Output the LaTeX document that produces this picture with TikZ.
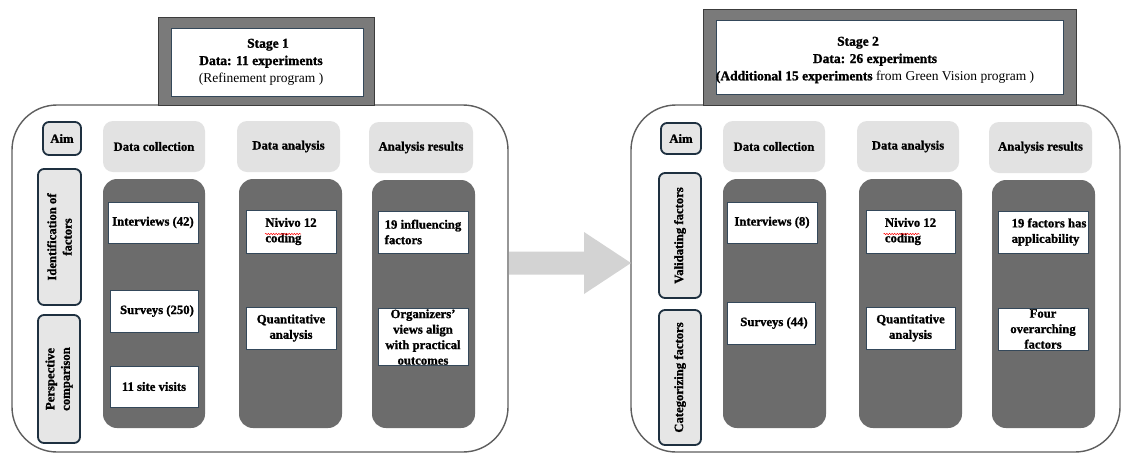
\documentclass[tikz,border=0pt]{standalone}
\usepackage{fontspec}
\setmainfont{Liberation Serif}[BoldFeatures={FakeBold=1.2}]
\usetikzlibrary{calc,decorations.pathmorphing}
\definecolor{frameline}{HTML}{5E5E5E}
\definecolor{hdrgray}{HTML}{7A7A7A}
\definecolor{hdrline}{HTML}{3C3C3C}
\definecolor{navy}{HTML}{1E3040}
\definecolor{itemline}{HTML}{34485A}
\definecolor{aimfill}{HTML}{E6E6E6}
\definecolor{headfill}{HTML}{E2E2E2}
\definecolor{bodyfill}{HTML}{6C6C6C}
\definecolor{arrowgray}{HTML}{D3D3D3}
\begin{document}
\begin{tikzpicture}[x=1pt,y=-1pt,
  every node/.style={font=\fontsize{12.7}{15.5}\selectfont\bfseries, inner sep=0pt, outer sep=0pt},
  container/.style={draw=frameline, line width=1.4pt, rounded corners=45pt, fill=white},
  hdrouter/.style={draw=hdrline, line width=0.8pt, fill=hdrgray},
  hdrinner/.style={draw=itemline, line width=1pt, fill=white},
  hdrtext/.style={font=\fontsize{13.5}{17.3}\selectfont, align=center},
  aimbox/.style={draw=navy, line width=1.8pt, fill=aimfill, rounded corners=6pt},
  colhead/.style={fill=headfill, rounded corners=10pt},
  colbody/.style={fill=bodyfill, rounded corners=14pt},
  itembox/.style={draw=itemline, line width=0.9pt, fill=white},
  squiggle/.style={draw=red, line width=0.5pt, decorate, decoration={snake, segment length=2.6pt, amplitude=0.7pt}}
]
\useasboundingbox (0,0) rectangle (1123,456);

% containers
\node[container, minimum width=496pt, minimum height=347pt] (s1) at (260,278.5) {};
\node[container, minimum width=489pt, minimum height=347pt] (s2) at (875.5,278.5) {};

% stage headers
\node[hdrouter, minimum width=216pt, minimum height=88pt] (h1o) at (266,61) {};
\node[hdrinner, minimum width=192pt, minimum height=68pt] (h1i) at (267,62) {};
\node[hdrtext] (h1t) at (261,62) {\bfseries\hspace*{14pt}Stage 1\\\bfseries Data: 11 experiments\\\mdseries (Refinement program )};

\node[hdrouter, minimum width=373pt, minimum height=96pt] (h2o) at (889.5,57) {};
\node[hdrinner, minimum width=347pt, minimum height=74pt] (h2i) at (889.5,57) {};
\node[hdrtext] (h2t) at (875,60) {\bfseries Stage 2\hspace*{34pt}\\\bfseries Data: 26 experiments\hspace*{50pt}\\\mdseries \textbf{(Additional 15 experiments} from Green Vision program )};

% ---- Stage 1 ----
\node[aimbox, minimum width=38pt, minimum height=33pt] (aim1) at (62,138.5) {Aim};
\node[aimbox, rotate=90, minimum width=136pt, minimum height=43pt, align=center] (idf) at (59.5,237) {Identification of\\factors};
\node[aimbox, rotate=90, minimum width=128pt, minimum height=42pt, align=center] (per) at (59,379) {Perspective\\comparison};

\node[colhead, minimum width=102pt, minimum height=51pt] (dc1h) at (154,146.5) {Data collection};
\node[colbody, minimum width=102pt, minimum height=249pt] (dc1b) at (154,303.5) {};
\node[itembox, minimum width=90pt, minimum height=41pt] (int1) at (153,222.5) {Interviews (42)};
\node[itembox, minimum width=88pt, minimum height=42pt] (sur1) at (154,311) {\hspace{6pt}Surveys (250)};
\node[itembox, minimum width=88pt, minimum height=41pt] (site1) at (154,386.5) {11 site visits\hspace{8pt}};

\node[colhead, minimum width=103pt, minimum height=51pt] (da1h) at (288.5,146.5) {Data analysis};
\node[colbody, minimum width=103pt, minimum height=249pt] (da1b) at (290.5,303.5) {};
\node[itembox, minimum width=90pt, minimum height=43pt, align=left] (niv1) at (291,231.5) {Nivivo 12\\coding};
\draw[squiggle] ($(niv1.center)+(-26,2.5)$) -- ($(niv1.center)+(10,2.5)$);
\node[itembox, minimum width=90pt, minimum height=42pt, align=center] (qa1) at (291,328) {Quantitative\\analysis};

\node[colhead, minimum width=104pt, minimum height=51pt] (ar1h) at (421,147.5) {Analysis results};
\node[colbody, minimum width=103pt, minimum height=248pt] (ar1b) at (423.5,304) {};
\node[itembox, minimum width=90pt, minimum height=42pt, align=left] (inf1) at (423,232) {19 influencing\\factors};
\node[itembox, minimum width=90pt, minimum height=57pt, align=center] (org1) at (423,337) {Organizers'\\views align\\with practical\\outcomes};

% ---- Stage 2 ----
\node[aimbox, minimum width=40pt, minimum height=31pt] (aim2) at (681,138.5) {Aim};
\node[aimbox, rotate=90, minimum width=125pt, minimum height=42pt] (val) at (680,235.5) {Validating factors};
\node[aimbox, rotate=90, minimum width=135pt, minimum height=42pt] (cat) at (680,377.5) {Categorizing factors};

\node[colhead, minimum width=102pt, minimum height=51pt] (dc2h) at (774,146.5) {Data collection};
\node[colbody, minimum width=103pt, minimum height=249pt] (dc2b) at (774.5,303.5) {};
\node[itembox, minimum width=90pt, minimum height=41pt] (int2) at (772,222.5) {Interviews (8)};
\node[itembox, minimum width=88pt, minimum height=42pt] (sur2) at (771,323) {\hspace{6pt}Surveys (44)};

\node[colhead, minimum width=102pt, minimum height=51pt] (da2h) at (908,146.5) {Data analysis};
\node[colbody, minimum width=103pt, minimum height=249pt] (da2b) at (910.5,303.5) {};
\node[itembox, minimum width=89pt, minimum height=43pt, align=left] (niv2) at (910.5,231.5) {Nivivo 12\\coding};
\draw[squiggle] ($(niv2.center)+(-27,2.5)$) -- ($(niv2.center)+(9,2.5)$);
\node[itembox, minimum width=89pt, minimum height=42pt, align=center] (qa2) at (910.5,328) {Quantitative\\analysis};

\node[colhead, minimum width=103pt, minimum height=51pt] (ar2h) at (1040.5,147.5) {Analysis results};
\node[colbody, minimum width=103pt, minimum height=248pt] (ar2b) at (1043.5,304) {};
\node[itembox, minimum width=90pt, minimum height=42pt, align=left] (f19) at (1043,232) {\hspace{12pt}19 factors has\\\hspace{12pt}applicability};
\node[itembox, minimum width=90pt, minimum height=42pt, align=center] (four) at (1043,329) {Four\\overarching\\factors};

% block arrow between the stages
\coordinate (a0) at (s1.east |- 0,263);
\coordinate (a1) at (s2.west |- 0,263);
\fill[arrowgray] ($(a0)+(1,-11.5)$) -- ($(a1)+(-47,-11.5)$) -- ($(a1)+(-47,-31)$) -- (a1)
  -- ($(a1)+(-47,31)$) -- ($(a1)+(-47,11.5)$) -- ($(a0)+(1,11.5)$) -- cycle;
\end{tikzpicture}
\end{document}
